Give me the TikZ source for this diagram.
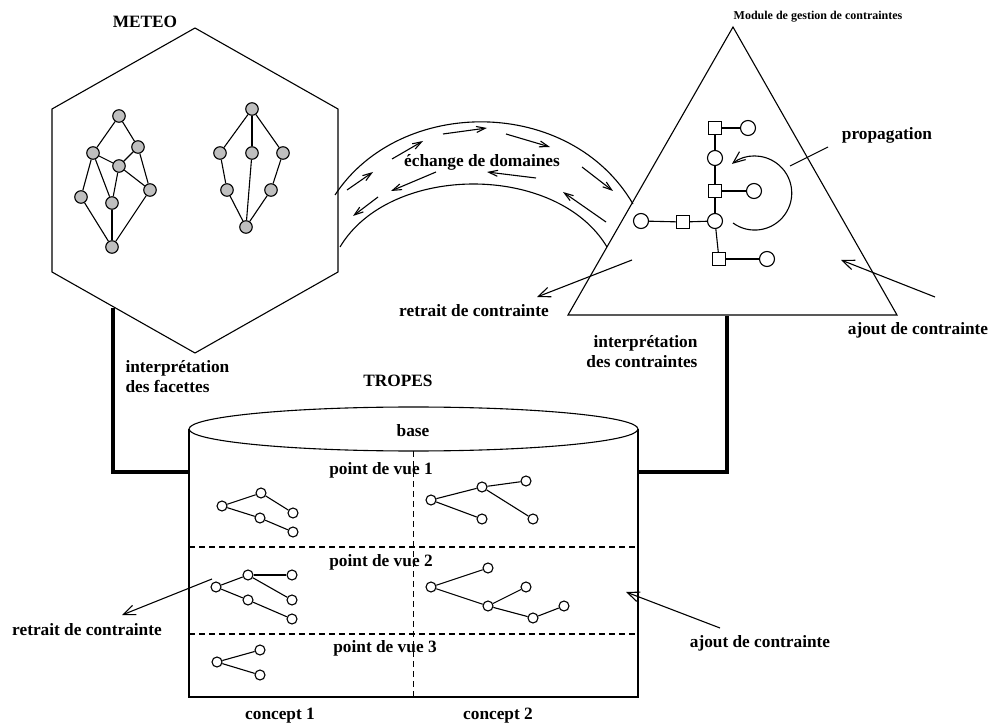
\documentclass[tikz,border=0pt]{standalone}
\usepackage{fontspec}
\setmainfont{Liberation Serif}
\usetikzlibrary{arrows.meta}

\begin{document}
\begin{tikzpicture}[
    x=1pt, y=-1pt, line width=1.1pt,
    lbl/.style={font=\fontsize{17.3}{20}\selectfont\bfseries, inner sep=0pt, align=center},
    gnode/.style={circle, draw, fill=black!25, minimum size=12.5pt, inner sep=0pt},
    onode/.style={circle, draw, fill=white, minimum size=10pt, inner sep=0pt},
    cnode/.style={circle, draw, fill=white, minimum size=15pt, inner sep=0pt},
    snode/.style={rectangle, draw, fill=white, minimum size=13pt, inner sep=0pt},
    arr/.style={-{Straight Barb[length=12pt, width=10pt]}},
    sarr/.style={-{Straight Barb[length=9pt, width=6pt]}},
    link/.style={line width=4pt},
]
\useasboundingbox (0,0) rectangle (994,727);

% METEO
\draw (195,28) -- (338,109) -- (338,272) -- (195,353) -- (52,272) -- (52,109) -- cycle;
\node[lbl] (meteo) at (145,22) {METEO};
\foreach \n/\x/\y in {h1/119/116, h2/93/153, h3/138/147, h4/119/166, h5/81/197, h6/112/203, h7/150/190, h8/112/247,
                      k1/252/109, k2/220/153, k3/252/153, k4/283/153, k5/227/190, k6/271/190, k7/246/227}
    \node[gnode] (\n) at (\x,\y) {};
\foreach \a/\b in {h1/h2, h1/h3, h2/h4, h3/h4, h2/h5, h2/h6, h4/h6, h4/h7, h3/h7, h5/h8, h6/h8, h7/h8,
                   k1/k2, k1/k3, k1/k4, k2/k5, k3/k7, k4/k6, k5/k7, k6/k7}
    \draw (\a) -- (\b);

% Module de gestion de contraintes
\draw (733,27) -- (897,315) -- (568,315) -- cycle;
\node[lbl, font=\fontsize{12}{14}\selectfont\bfseries] (module) at (818,17) {Module de gestion de contraintes};
\foreach \n/\x/\y in {s1/715/128, s2/715/191, s3/683/222, s4/719/259}
    \node[snode] (\n) at (\x,\y) {};
\foreach \n/\x/\y in {c1/748/128, c2/715/158, c3/754/191, c4/715/221, c5/641/221, c6/767/259}
    \node[cnode] (\n) at (\x,\y) {};
\foreach \a/\b in {s1/c1, s1/c2, c2/s2, s2/c3, s2/c4, c4/s3, s3/c5, c4/s4, s4/c6}
    \draw (\a) -- (\b);
\draw[arr] (733,223) arc[start angle=126, end angle=-128, radius=37];
\node[lbl] (propag) at (887,135) {propagation};
\coordinate (propag-a) at (790,166);
\coordinate (propag-b) at (828,147);
\draw (propag-a) -- (propag-b);

% echange de domaines
\draw (335,195) .. controls (400,96) and (570,96) .. (633,204);
\draw (340,247) .. controls (390,163) and (557,163) .. (607,247);
\node[lbl] (echange) at (482,162) {échange de domaines};
\foreach \xa/\ya/\xb/\yb in {347/190/373/172, 392/159/423/141, 443/134/487/128, 506/134/550/147, 582/167/613/191,
                             606/222/563/192, 536/178/487/172, 436/172/391/191, 378/197/353/216}
    \draw[sarr] (\xa,\ya) -- (\xb,\yb);

% ajout / retrait (module)
\coordinate (ret1-a) at (632,260);
\coordinate (ret1-b) at (537,297);
\draw[arr] (ret1-a) -- (ret1-b);
\node[lbl] (retrait1) at (474,311) {retrait de contrainte};
\coordinate (ajt1-a) at (935,297);
\coordinate (ajt1-b) at (841,260);
\draw[arr] (ajt1-a) -- (ajt1-b);
\node[lbl] (ajout1) at (918,330) {ajout de contrainte};

% TROPES
\draw (189,429) -- (189,697) -- (638,697) -- (638,429);
\draw (413.5,429) ellipse [x radius=224.5, y radius=22];
\draw[dash pattern=on 6pt off 4pt] (189,547) -- (638,547);
\draw[dash pattern=on 6pt off 4pt] (189,634) -- (638,634);
\draw[dash pattern=on 6pt off 4pt] (413.5,451) -- (413.5,697);
\node[lbl] (tropes) at (398,381) {TROPES};
\node[lbl] (base) at (413,431) {base};
\node[lbl] (pv1) at (381,470) {point de vue 1};
\node[lbl] (pv2) at (381,562) {point de vue 2};
\node[lbl] (pv3) at (385,648) {point de vue 3};
\node[lbl] (concept1) at (280,716) {concept 1};
\node[lbl] (concept2) at (498,716) {concept 2};
\foreach \n/\x/\y in {a1/222/506, a2/261/493, a3/293/513, a4/260/518, a5/293/532,
                      b1/216/587, b2/248/575, b3/292/575, b4/248/600, b5/292/600, b6/292/619,
                      d1/217/662, d2/260/650, d3/260/675,
                      e1/431/500, e2/482/487, e3/526/481, e4/482/519, e5/533/519,
                      f1/431/587, f2/488/568, f3/526/587, f4/488/606, f5/533/618, f6/564/606}
    \node[onode] (\n) at (\x,\y) {};
\foreach \a/\b in {a1/a2, a2/a3, a1/a4, a4/a5,
                   b1/b2, b2/b3, b2/b5, b1/b4, b4/b6,
                   d1/d2, d1/d3,
                   e1/e2, e2/e3, e2/e5, e1/e4,
                   f1/f2, f1/f4, f4/f3, f4/f5, f5/f6}
    \draw (\a) -- (\b);

% ajout / retrait (TROPES)
\coordinate (ret2-a) at (212,579);
\coordinate (ret2-b) at (122,615);
\draw[arr] (ret2-a) -- (ret2-b);
\node[lbl] (retrait2) at (87,630) {retrait de contrainte};
\coordinate (ajt2-a) at (720,628);
\coordinate (ajt2-b) at (626,592);
\draw[arr] (ajt2-a) -- (ajt2-b);
\node[lbl] (ajout2) at (760,643) {ajout de contrainte};

% interpretations
\coordinate (meteo-foot) at (113,308);
\coordinate (cyl-left) at (189,472);
\draw[link] (meteo-foot) |- (cyl-left);
\node[lbl, align=left, anchor=west] (facettes) at (125,377) {interprétation\\des facettes};
\coordinate (module-foot) at (727,316);
\coordinate (cyl-right) at (638,472);
\draw[link] (module-foot) |- (cyl-right);
\node[lbl, align=right, anchor=east] (contraintes) at (698,352) {interprétation\\des contraintes};

\end{tikzpicture}
\end{document}
